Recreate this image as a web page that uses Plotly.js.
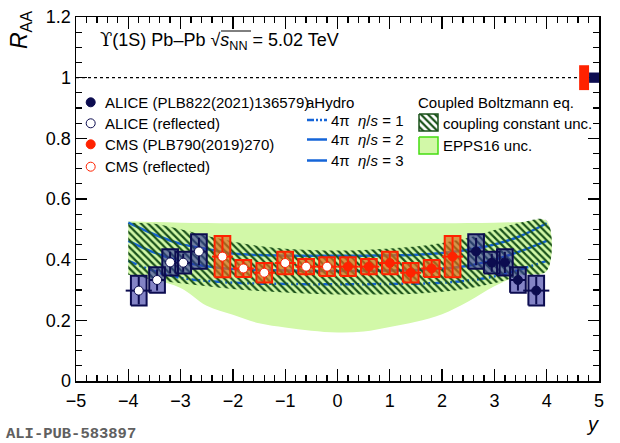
<!DOCTYPE html>
<html>
<head>
<meta charset="utf-8">
<script src="https://cdn.plot.ly/plotly-3.0.1.min.js"></script>
<style>
html, body { margin: 0; padding: 0; background: #fff; }
#chart { width: 620px; height: 443px; }
</style>
</head>
<body>
<div id="chart"></div>
<script>
// ALICE Upsilon(1S) R_AA, forward rapidity
var aliceY = [2.65, 2.95, 3.2, 3.45, 3.8];
var aliceRaa = [0.427, 0.390, 0.391, 0.333, 0.298];
var aliceStat = [0.045, 0.030, 0.035, 0.035, 0.045];
var aliceSyst = [0.057, 0.036, 0.043, 0.042, 0.049];
var aliceBin = [0.15, 0.15, 0.10, 0.15, 0.25];

// CMS Upsilon(1S) R_AA, |y| < 2.4
var cmsY = [0.2, 0.6, 1.0, 1.4, 1.8, 2.2];
var cmsRaa = [0.377, 0.377, 0.389, 0.357, 0.371, 0.410];
var cmsStat = [0.030, 0.030, 0.035, 0.030, 0.030, 0.065];
var cmsSyst = [0.031, 0.025, 0.037, 0.032, 0.028, 0.068];
var cmsBin = [0.2, 0.2, 0.2, 0.2, 0.2, 0.2];

// global (correlated) uncertainties: CMS, ALICE
var globalUnc = [0.041, 0.017];

// models
var modelY = [-4, -3.5, -3, -2.5, -2, -1.5, -1, -0.5, 0, 0.5, 1, 1.5, 2, 2.5, 3, 3.5, 4];
var hydroEta1 = [0.396, 0.362, 0.340, 0.330, 0.324, 0.321, 0.320, 0.319, 0.319, 0.319, 0.320, 0.321, 0.324, 0.331, 0.345, 0.368, 0.396];
var hydroEta2 = [0.462, 0.423, 0.395, 0.378, 0.369, 0.366, 0.364, 0.363, 0.363, 0.363, 0.364, 0.366, 0.370, 0.380, 0.400, 0.428, 0.462];
var hydroEta3 = [0.522, 0.483, 0.452, 0.435, 0.420, 0.415, 0.413, 0.413, 0.413, 0.413, 0.414, 0.416, 0.422, 0.433, 0.450, 0.478, 0.520];
var boltzUp = [0.522, 0.518, 0.500, 0.478, 0.460, 0.445, 0.436, 0.432, 0.430, 0.432, 0.437, 0.443, 0.455, 0.472, 0.498, 0.522, 0.528];
var boltzLow = [0.350, 0.333, 0.322, 0.312, 0.303, 0.297, 0.292, 0.288, 0.285, 0.285, 0.286, 0.288, 0.294, 0.305, 0.322, 0.347, 0.363];
var eppsUp = [0.527, 0.524, 0.522, 0.521, 0.520, 0.520, 0.520, 0.520, 0.520, 0.520, 0.520, 0.520, 0.520, 0.521, 0.522, 0.524, 0.527];
var eppsLow = [0.350, 0.333, 0.307, 0.248, 0.218, 0.190, 0.176, 0.166, 0.160, 0.163, 0.178, 0.195, 0.220, 0.262, 0.312, 0.350, 0.363];

var FONT = 'Liberation Sans, Arial, sans-serif';
var NAVY = '#0c0c50';
var RED = '#ff2200';
var BLUE = '#1565d8';
var HATCH = '#1a521a';
var BOXHALF = 0.15;

// plot area in picture pixels
var PL = 76, PR = 599, PT = 17, PB = 381;

function neg(a) { return a.map(function (v) { return -v; }); }

function band(xs, up, low) {
    return {
        x: xs.concat(xs.slice().reverse()),
        y: up.concat(low.slice().reverse())
    };
}

function boxes(xs, ys, es) {
    var bx = [], by = [];
    for (var i = 0; i < xs.length; i++) {
        bx.push(xs[i] - BOXHALF, xs[i] + BOXHALF, xs[i] + BOXHALF, xs[i] - BOXHALF, xs[i] - BOXHALF, null);
        by.push(ys[i] - es[i], ys[i] - es[i], ys[i] + es[i], ys[i] + es[i], ys[i] - es[i], null);
    }
    return { x: bx, y: by };
}

function boxTrace(xs, ys, es, line, fill) {
    var b = boxes(xs, ys, es);
    return {
        x: b.x, y: b.y, type: 'scatter', mode: 'lines', fill: 'toself',
        fillcolor: fill, line: { color: line, width: 2 }, hoverinfo: 'skip'
    };
}

function pointTrace(xs, ys, stat, bin, color, open) {
    return {
        x: xs, y: ys, type: 'scatter', mode: 'markers',
        marker: {
            symbol: 'circle', size: 9, color: open ? '#ffffff' : color,
            line: { color: color, width: 1 }
        },
        error_y: { type: 'data', array: stat, color: color, thickness: 2, width: 0 },
        error_x: { type: 'data', array: bin, color: color, thickness: 2, width: 0 }
    };
}

var hatch = { shape: '\\', fgcolor: HATCH, size: 5, solidity: 0.45 };
var epps = band(modelY, eppsUp, eppsLow);
var boltz = band(modelY, boltzUp, boltzLow);

var traces = [
    { x: epps.x, y: epps.y, type: 'scatter', mode: 'lines', fill: 'toself', line: { width: 0, shape: 'spline' }, fillcolor: 'rgb(210,248,168)', hoverinfo: 'skip' },
    { x: modelY, y: hydroEta1, type: 'scatter', mode: 'lines', line: { color: BLUE, width: 2.5, dash: '9px,3px,2px,3px,2px,3px', shape: 'spline' } },
    { x: modelY, y: hydroEta2, type: 'scatter', mode: 'lines', line: { color: BLUE, width: 2.5, shape: 'spline' } },
    { x: modelY, y: hydroEta3, type: 'scatter', mode: 'lines', line: { color: BLUE, width: 2.5, shape: 'spline' } },
    { x: boltz.x, y: boltz.y, type: 'scatter', mode: 'lines', fill: 'toself', line: { width: 0, shape: 'spline' }, fillcolor: 'rgba(0,0,0,0)',
      fillpattern: hatch, hoverinfo: 'skip' },
    boxTrace(aliceY, aliceRaa, aliceSyst, NAVY, 'rgba(50,50,160,0.6)'),
    boxTrace(neg(aliceY), aliceRaa, aliceSyst, NAVY, 'rgba(50,50,160,0.6)'),
    boxTrace(cmsY, cmsRaa, cmsSyst, RED, 'rgba(220,105,30,0.7)'),
    boxTrace(neg(cmsY), cmsRaa, cmsSyst, RED, 'rgba(220,105,30,0.7)'),
    pointTrace(aliceY, aliceRaa, aliceStat, aliceBin, NAVY, false),
    pointTrace(neg(aliceY), aliceRaa, aliceStat, aliceBin, NAVY, true),
    pointTrace(cmsY, cmsRaa, cmsStat, cmsBin, RED, false),
    pointTrace(neg(cmsY), cmsRaa, cmsStat, cmsBin, RED, true)
];

// legend symbols on an overlay axis measured in picture pixels
var legMarkX = [90.7, 90.7, 90.7, 90.7];
var legMarkY = [102.3, 123.3, 144.3, 166.7];
traces.push({
    x: legMarkX, y: legMarkY, xaxis: 'x2', yaxis: 'y2', type: 'scatter', mode: 'markers',
    marker: { size: 9, color: [NAVY, '#ffffff', RED, '#ffffff'], line: { width: 1, color: [NAVY, NAVY, RED, RED] } }
});
var hydroLegY = [120, 139.5, 160.5];
traces.push({ x: [307, 327], y: [hydroLegY[0], hydroLegY[0]], xaxis: 'x2', yaxis: 'y2', type: 'scatter', mode: 'lines', line: { color: BLUE, width: 2.5, dash: '7px,2px,2px,2px,2px,2px' } });
traces.push({ x: [307, 327], y: [hydroLegY[1], hydroLegY[1]], xaxis: 'x2', yaxis: 'y2', type: 'scatter', mode: 'lines', line: { color: BLUE, width: 2.5 } });
traces.push({ x: [307, 327], y: [hydroLegY[2], hydroLegY[2]], xaxis: 'x2', yaxis: 'y2', type: 'scatter', mode: 'lines', line: { color: BLUE, width: 2.5 } });
traces.push({ x: [419, 438, 438, 419, 419], y: [114, 114, 131, 131, 114], xaxis: 'x2', yaxis: 'y2', type: 'scatter', mode: 'lines', fill: 'toself',
    fillcolor: 'rgba(0,0,0,0)', fillpattern: hatch, line: { color: HATCH, width: 1.5 } });
traces.push({ x: [419, 438, 438, 419, 419], y: [137, 137, 154, 154, 137], xaxis: 'x2', yaxis: 'y2', type: 'scatter', mode: 'lines', fill: 'toself',
    fillcolor: 'rgb(210,248,168)', line: { color: '#44dd11', width: 1.5 } });

function label(x, y, text, size, extra) {
    var a = { xref: 'x2', yref: 'y2', x: x, y: y, text: text, showarrow: false, xanchor: 'left', yanchor: 'middle',
        font: { family: FONT, size: size || 15, color: '#000' } };
    for (var k in extra) { a[k] = extra[k]; }
    return a;
}

// texts outside the plot area go on paper coordinates
function outside(px, py, text, font, extra) {
    var a = { xref: 'paper', yref: 'paper', x: (px - PL) / (PR - PL), y: (PB - py) / (PB - PT),
        text: text, showarrow: false, xanchor: 'center', yanchor: 'middle', font: font };
    for (var k in extra) { a[k] = extra[k]; }
    return a;
}

var annotations = [
    label(98, 41, '<span style="font-family:DejaVu Serif">\u03d2</span>(1S) Pb\u2013Pb \u221a<i>s</i><sub>NN</sub> = 5.02 TeV', 18),
    label(103, legMarkY[0], 'ALICE (PLB822(2021)136579)'),
    label(103, legMarkY[1], 'ALICE (reflected)'),
    label(103, legMarkY[2], 'CMS (PLB790(2019)270)'),
    label(103, legMarkY[3], 'CMS (reflected)'),
    label(304, legMarkY[0], 'aHydro'),
    label(329, hydroLegY[0], '4\u03c0  <i>\u03b7</i>/<i>s</i> = 1'),
    label(329, hydroLegY[1], '4\u03c0  <i>\u03b7</i>/<i>s</i> = 2'),
    label(329, hydroLegY[2], '4\u03c0  <i>\u03b7</i>/<i>s</i> = 3'),
    label(416, legMarkY[0], 'Coupled Boltzmann eq.'),
    label(441, 123, 'coupling constant unc.'),
    label(441, 145.5, 'EPPS16 unc.'),
    outside(21, 30, '<i>R</i><sub>AA</sub>', { family: FONT, size: 23, color: '#000' }, { textangle: -90 }),
    outside(592, 424, '<i>y</i>', { family: FONT, size: 20, color: '#000' }),
    outside(4, 434, 'ALI-PUB-583897', { family: 'Liberation Mono, monospace', size: 15.5, color: '#606060', weight: 'bold' }, { xanchor: 'left' })
];

var shapes = [
    { type: 'line', xref: 'paper', yref: 'y', x0: 0, x1: 1, y0: 1, y1: 1, line: { color: '#000', width: 1.3, dash: '3px,3px' } },
    { type: 'rect', xref: 'x', yref: 'y', x0: 4.62, x1: 4.81, y0: 1 - globalUnc[0], y1: 1 + globalUnc[0], fillcolor: RED, line: { width: 0 } },
    { type: 'rect', xref: 'x', yref: 'y', x0: 4.81, x1: 5.0, y0: 1 - globalUnc[1], y1: 1 + globalUnc[1], fillcolor: NAVY, line: { width: 0 } },
    { type: 'line', xref: 'x2', yref: 'y2', x0: 221, x1: 251, y0: 31, y1: 31, line: { color: '#000', width: 1 } }
];

var axisBase = {
    ticks: 'inside', ticklen: 12, tickwidth: 1.3, tickcolor: '#000',
    showline: true, linecolor: '#000', linewidth: 1.5, mirror: 'ticks',
    showgrid: false, zeroline: false,
    tickfont: { family: FONT, size: 18, color: '#000' }
};

var layout = {
    width: 620, height: 443,
    margin: { l: PL, r: 620 - PR, t: PT, b: 443 - PB, pad: 0 },
    paper_bgcolor: '#fff', plot_bgcolor: '#fff',
    showlegend: false,
    xaxis: Object.assign({}, axisBase, { range: [-5, 5], dtick: 1, tick0: 0, ticklabelstandoff: 3,
        minor: { ticks: 'inside', ticklen: 6, dtick: 0.2, tickwidth: 1.3, tickcolor: '#000', showgrid: false } }),
    yaxis: Object.assign({}, axisBase, { range: [0, 1.2], dtick: 0.2, tick0: 0, ticklen: 11,
        minor: { ticks: 'inside', ticklen: 6, dtick: 0.05, tickwidth: 1.3, tickcolor: '#000', showgrid: false } }),
    xaxis2: { overlaying: 'x', anchor: 'y2', range: [PL, PR], visible: false, fixedrange: true },
    yaxis2: { overlaying: 'y', anchor: 'x2', range: [PB, PT], visible: false, fixedrange: true },
    annotations: annotations,
    shapes: shapes
};

Plotly.newPlot('chart', traces, layout, { displayModeBar: false, staticPlot: true });
</script>
</body>
</html>
